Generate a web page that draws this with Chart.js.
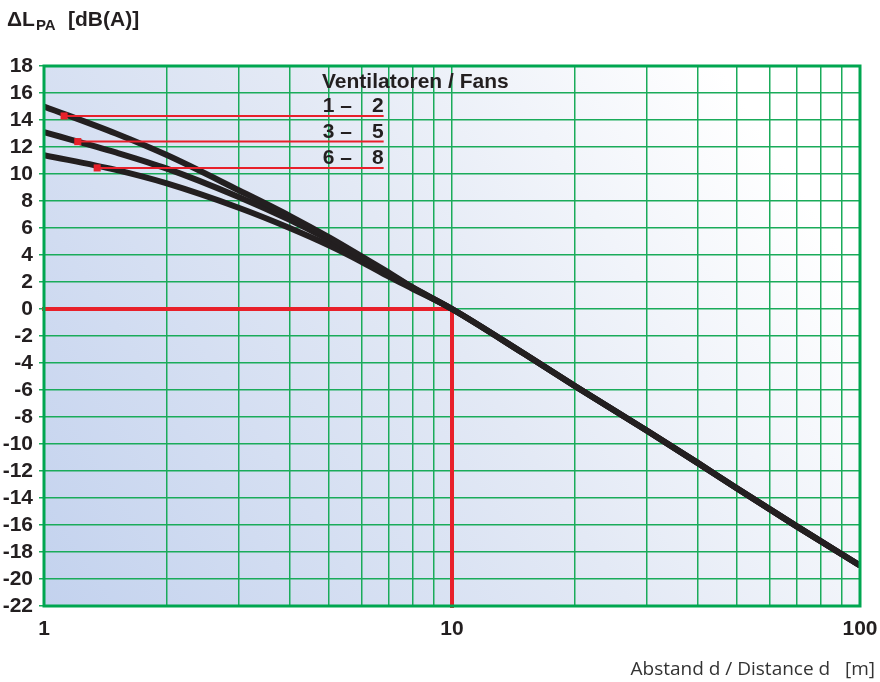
<!DOCTYPE html>
<html>
<head>
<meta charset="utf-8">
<script src="https://cdn.jsdelivr.net/npm/chart.js@4.4.1/dist/chart.umd.min.js"></script>
<style>
  body { margin: 0; background: #fff; }
</style>
</head>
<body>
<canvas id="noiseChart" width="880" height="682"></canvas>
<script>
// distances in m (log axis) and level change in dB(A)
const nearDistances = [1, 1.5, 2, 3, 4, 5, 6, 7, 8, 10];
const farDistances = [15, 20, 30, 40, 50, 70, 100];
const fans1to2 = [15.0, 13.0, 11.4, 8.8, 6.9, 5.3, 3.9, 2.7, 1.6, 0];
const fans3to5 = [13.1, 11.6, 10.4, 8.3, 6.6, 5.1, 3.8, 2.6, 1.6, 0];
const fans6to8 = [11.4, 10.3, 9.3, 7.5, 6.0, 4.7, 3.5, 2.4, 1.5, 0];
const farField = [-3.3, -5.7, -9.0, -11.4, -13.3, -16.1, -19.0];

// reference: 0 dB(A) at 10 m
const refDistance = 10;
const refLevel = 0;

// legend lines (Ventilatoren / Fans)
const legendLabels = [["1 \u2013", "2"], ["3 \u2013", "5"], ["6 \u2013", "8"]];
const legendLevels = [14.3, 12.4, 10.45];
const legendStarts = [1.12, 1.21, 1.35];
const legendEnd = 6.8;

const xTicks = [1, 2, 3, 4, 5, 6, 7, 8, 9, 10, 20, 30, 40, 50, 60, 70, 80, 90, 100];
const xLabels = [1, 10, 100];

const green = '#1aab5a';
const red = '#e8202a';
const ink = '#231f20';
const boldFont = 'Liberation Sans';
const allDistances = nearDistances.concat(farDistances);

function toPoints(xs, ys) {
    return xs.map((x, i) => ({ x: x, y: ys[i] }));
}

const curveStyle = {
    borderColor: ink,
    borderWidth: 6,
    pointRadius: 0,
    showLine: true,
    cubicInterpolationMode: 'monotone',
    fill: false
};

const datasets = [];
// legend red lines drawn on top
legendLevels.forEach((lv, i) => {
    datasets.push({
        data: [{ x: legendStarts[i], y: lv }, { x: legendEnd, y: lv }],
        borderColor: red,
        backgroundColor: red,
        borderWidth: 2,
        showLine: true,
        pointStyle: 'rect',
        pointRadius: [5, 0],
        pointBorderWidth: 0
    });
});
datasets.push(Object.assign({ data: toPoints(allDistances, fans1to2.concat(farField)) }, curveStyle));
datasets.push(Object.assign({ data: toPoints(allDistances, fans3to5.concat(farField)) }, curveStyle));
datasets.push(Object.assign({ data: toPoints(allDistances, fans6to8.concat(farField)) }, curveStyle));
datasets.push({
    data: [{ x: 1, y: refLevel }, { x: refDistance, y: refLevel }, { x: refDistance, y: -22 }],
    borderColor: red,
    borderWidth: 4,
    borderCapStyle: 'square',
    pointRadius: 0,
    showLine: true,
    clip: false
});

const backgroundPlugin = {
    id: 'background',
    beforeDraw(chart) {
        const { ctx, chartArea: a } = chart;
        const g = ctx.createLinearGradient(a.left, a.bottom, a.right, a.top);
        g.addColorStop(0, '#c3d2ee');
        g.addColorStop(0.5, '#e3e9f5');
        g.addColorStop(0.88, '#ffffff');
        g.addColorStop(1, '#ffffff');
        ctx.save();
        ctx.fillStyle = g;
        ctx.fillRect(a.left, a.top, a.right - a.left, a.bottom - a.top);
        ctx.restore();
    }
};

const textPlugin = {
    id: 'texts',
    afterDraw(chart) {
        const { ctx, chartArea: a } = chart;
        const xs = chart.scales.x, ys = chart.scales.y;
        ctx.save();
        // plot frame
        ctx.strokeStyle = '#00a650';
        ctx.lineWidth = 3;
        ctx.strokeRect(a.left, a.top, a.right - a.left, a.bottom - a.top);

        ctx.fillStyle = ink;
        ctx.textBaseline = 'alphabetic';
        // y axis title
        ctx.font = 'bold 21px ' + boldFont;
        ctx.textAlign = 'left';
        ctx.fillText('\u0394L', 7, 26);
        let w = ctx.measureText('\u0394L').width;
        ctx.font = 'bold 15px ' + boldFont;
        ctx.fillText('PA', 7 + w + 1, 30);
        ctx.font = 'bold 21px ' + boldFont;
        ctx.fillText('[dB(A)]', 68, 26);

        // legend
        ctx.font = 'bold 21px ' + boldFont;
        ctx.fillText('Ventilatoren / Fans', xs.getPixelForValue(4.8), ys.getPixelForValue(16.4));
        const right = xs.getPixelForValue(legendEnd);
        legendLevels.forEach((lv, i) => {
            const yb = ys.getPixelForValue(lv) - 4;
            ctx.textAlign = 'left';
            ctx.fillText(legendLabels[i][0], right - 61, yb);
            ctx.textAlign = 'right';
            ctx.fillText(legendLabels[i][1], right, yb);
        });

        // x axis title
        ctx.font = '19px "Open Sans"';
        ctx.fillStyle = '#333';
        ctx.textAlign = 'right';
        ctx.fillText('Abstand d / Distance d   [m]', 875, 675);
        ctx.restore();
    }
};

new Chart(document.getElementById('noiseChart'), {
    type: 'scatter',
    data: { datasets: datasets },
    options: {
        responsive: false,
        animation: false,
        layout: { padding: { top: 66, right: 20, left: 0, bottom: 0 } },
        plugins: { legend: { display: false }, tooltip: { enabled: false } },
        scales: {
            x: {
                type: 'logarithmic',
                min: 1,
                max: 100,
                afterBuildTicks(scale) {
                    scale.ticks = xTicks.map(v => ({ value: v }));
                },
                afterFit(scale) {
                    scale.height = 76;
                    scale.paddingLeft = 0;
                    scale.paddingRight = 0;
                },
                ticks: {
                    autoSkip: false,
                    maxRotation: 0,
                    padding: 11,
                    color: ink,
                    font: { family: boldFont, weight: 'bold', size: 21 },
                    callback: v => xLabels.includes(v) ? String(v) : ''
                },
                grid: { color: green, lineWidth: 1.5, drawTicks: false },
                border: { display: false }
            },
            y: {
                min: -22,
                max: 18,
                afterFit(scale) {
                    scale.width = 44;
                    scale.paddingTop = 0;
                    scale.paddingBottom = 0;
                },
                ticks: {
                    stepSize: 2,
                    autoSkip: false,
                    padding: 6,
                    color: ink,
                    font: { family: boldFont, weight: 'bold', size: 21 },
                    callback: v => String(v)
                },
                grid: { color: green, lineWidth: 1.5, tickLength: 5 },
                border: { display: false }
            }
        }
    },
    plugins: [backgroundPlugin, textPlugin]
});
</script>
</body>
</html>
